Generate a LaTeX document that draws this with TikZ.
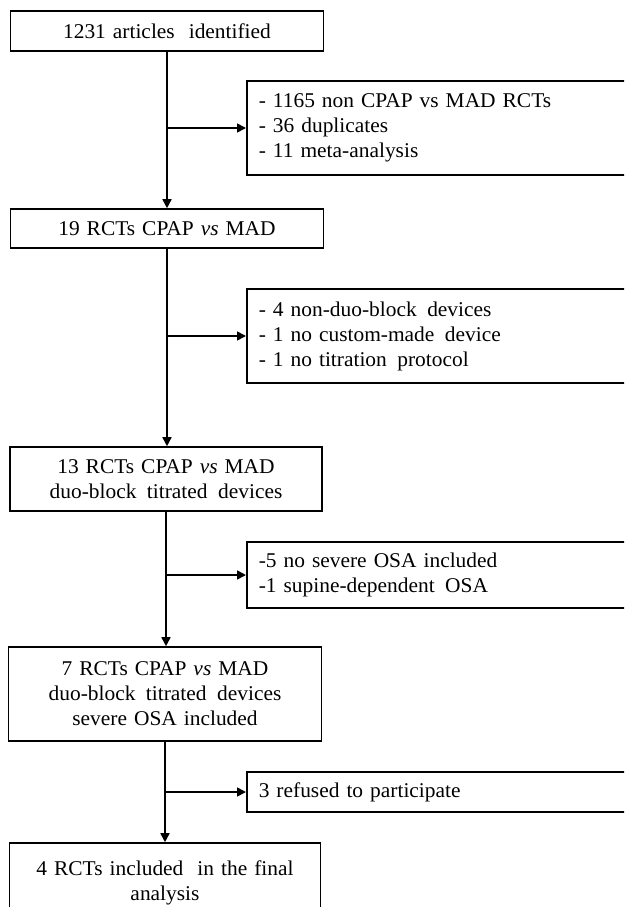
\documentclass[tikz,border=0pt]{standalone}
\usepackage{fontspec}
\setmainfont{Liberation Serif}[FakeStretch=1.02]
\usetikzlibrary{arrows.meta}

\tikzset{
  flowbox/.style={draw, line width=1.6pt, inner sep=0pt, align=center,
    text width=#1, minimum width=#1},
  exclbox/.style={draw, line width=1.6pt, anchor=west, inner xsep=12pt,
    inner ysep=0pt, text width=376pt, align=left},
  flowarrow/.style={line width=1.6pt, -{Triangle[length=9pt,width=9pt]}},
  every node/.style={font=\fontsize{21}{25}\selectfont}
}

\begin{document}
\begin{tikzpicture}[x=1pt,y=-1pt]
  \useasboundingbox (0,0) rectangle (624,907);
  \clip (0,0) rectangle (624,907);

  % main stages
  \node[flowbox=313pt, minimum height=40pt] (b1) at (167,31) {1231 articles\ \ identified};
  \node[flowbox=313pt, minimum height=39pt] (b2) at (167,228.5) {19 RCTs CPAP \textit{vs} MAD};
  \node[flowbox=312pt, minimum height=64pt] (b3) at (166,479) {13 RCTs CPAP \textit{vs} MAD\\duo-block\ \,titrated\ \,devices};
  \node[flowbox=313pt, minimum height=94pt] (b4) at (165,694) {7 RCTs CPAP \textit{vs} MAD\\duo-block\ \,titrated\ \,devices\\severe OSA included};
  \node[flowbox=311pt, minimum height=80pt] (b5) at (165,883) {4 RCTs included\ \ in the final\\analysis};

  % exclusions
  \node[exclbox, minimum height=94pt] (e1) at (246,128) {- 1165 non CPAP vs MAD RCTs\\- 36 duplicates\\- 11 meta-analysis};
  \node[exclbox, minimum height=94pt] (e2) at (246,336) {- 4 non-duo-block\ \,devices\\- 1 no custom-made\ \,device\\- 1 no titration\ \,protocol};
  \node[exclbox, minimum height=66pt] (e3) at (246,575) {-5 no severe OSA included\\-1 supine-dependent\ \,OSA};
  \node[exclbox, minimum height=40pt] (e4) at (246,792) {3 refused to participate};

  % main flow
  \draw[flowarrow] (b1.south) -- (b1.south |- b2.north);
  \draw[flowarrow] (b2.south) -- (b2.south |- b3.north);
  \draw[flowarrow] (b3.south) -- (b3.south |- b4.north);
  \draw[flowarrow] (b4.south) -- (b4.south |- b5.north);

  % branches to exclusions
  \draw[flowarrow] (b1.south |- e1.west) -- (e1.west);
  \draw[flowarrow] (b2.south |- e2.west) -- (e2.west);
  \draw[flowarrow] (b3.south |- e3.west) -- (e3.west);
  \draw[flowarrow] (b4.south |- e4.west) -- (e4.west);
\end{tikzpicture}
\end{document}
